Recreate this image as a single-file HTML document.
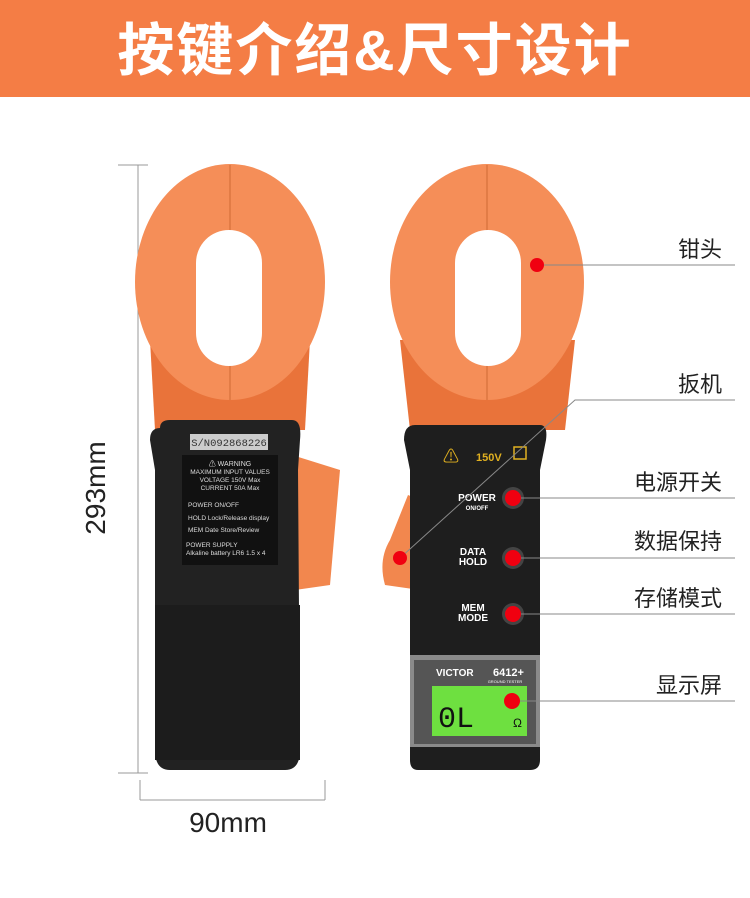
<!DOCTYPE html>
<html><head><meta charset="utf-8"><style>
body{margin:0;width:750px;height:893px;background:#fff;overflow:hidden;font-family:"Liberation Sans","Noto Sans CJK SC",sans-serif}
</style></head><body>
<svg width="750" height="893" viewBox="0 0 750 893" xmlns="http://www.w3.org/2000/svg" font-family="Liberation Sans, Noto Sans CJK SC, sans-serif">
<rect x="0" y="0" width="750" height="97" fill="#F47D45"/>
<text x="375" y="70" text-anchor="middle" font-size="57" font-weight="bold" fill="#fff" letter-spacing="2">按键介绍&amp;尺寸设计</text>

<!-- dimension lines -->
<g stroke="#999" stroke-width="1">
<line x1="138" y1="165" x2="138" y2="773"/><line x1="118" y1="165" x2="148" y2="165"/><line x1="118" y1="773" x2="148" y2="773"/>
<line x1="140" y1="780" x2="140" y2="800"/><line x1="325" y1="780" x2="325" y2="800"/><line x1="140" y1="800" x2="325" y2="800"/>
</g>
<text transform="translate(105,488) rotate(-90)" text-anchor="middle" font-size="28" fill="#222">293mm</text>
<text x="228" y="832" text-anchor="middle" font-size="28" fill="#222">90mm</text>

<!-- left device -->
<path d="M292 455 L340 470 L330 585 L295 590 Z" fill="#F2874E"/>
<path d="M150 340 L310 340 L305 430 L155 430 Z" fill="#E9733A"/>
<ellipse cx="230" cy="282" rx="95" ry="118" fill="#F58E58"/>
<line x1="230" y1="165" x2="230" y2="230" stroke="#d06a35"/>
<line x1="230" y1="365" x2="230" y2="400" stroke="#d06a35"/>
<rect x="196" y="230" width="66" height="136" rx="33" fill="#fff"/>
<path d="M160 428 Q160 420 170 420 L292 420 Q302 420 300 440 L298 470 L300 750 Q300 770 285 770 L170 770 Q155 770 155 750 L155 470 L150 440 Q150 428 160 428 Z" fill="#222"/>
<rect x="155" y="605" width="145" height="155" fill="#1c1c1c"/>
<rect x="190" y="434" width="78" height="16" fill="#ccc"/>
<text x="229" y="446" text-anchor="middle" font-size="10.5" fill="#333" font-family="Liberation Mono, monospace">S/N092868226</text>
<rect x="182" y="455" width="96" height="110" fill="#111"/>
<g fill="#ddd" font-size="6.5">
<text x="230" y="466" text-anchor="middle" font-size="7">⚠ WARNING</text>
<text x="230" y="474" text-anchor="middle">MAXIMUM INPUT VALUES</text>
<text x="230" y="482" text-anchor="middle">VOLTAGE 150V Max</text>
<text x="230" y="490" text-anchor="middle">CURRENT 50A Max</text>
<text x="188" y="507">POWER  ON/OFF</text>
<text x="188" y="520">HOLD  Lock/Release display</text>
<text x="188" y="532">MEM  Date Store/Review</text>
<text x="186" y="547">POWER SUPPLY</text>
<text x="186" y="555">Alkaline battery LR6 1.5 x 4</text>
</g>

<!-- right device -->
<path d="M408 495 L420 500 L420 590 L385 585 Q378 560 390 540 Z" fill="#F2874E"/>
<path d="M400 340 L575 340 L565 430 L410 430 Z" fill="#E9733A"/>
<ellipse cx="487" cy="282" rx="97" ry="118" fill="#F58E58"/>
<line x1="487" y1="165" x2="487" y2="230" stroke="#d06a35"/>
<line x1="487" y1="365" x2="487" y2="400" stroke="#d06a35"/>
<rect x="455" y="230" width="66" height="136" rx="33" fill="#fff"/>
<path d="M415 425 L540 425 Q548 425 546 440 L540 470 L540 760 Q540 770 530 770 L418 770 Q410 770 410 760 L410 470 L404 440 Q404 425 415 425 Z" fill="#1e1e1e"/>
<text x="443" y="462" font-size="16" fill="#E0B020">⚠</text>
<text x="476" y="461" font-size="11" font-weight="bold" fill="#E0B020">150V</text>
<rect x="514" y="447" width="12" height="12" fill="none" stroke="#E0B020" stroke-width="1.5"/>
<g fill="#fff" font-weight="bold" text-anchor="middle">
<text x="477" y="501" font-size="10">POWER</text><text x="477" y="510" font-size="6">ON/OFF</text>
<text x="473" y="555" font-size="10">DATA</text><text x="473" y="565" font-size="10">HOLD</text>
<text x="473" y="611" font-size="10">MEM</text><text x="473" y="621" font-size="10">MODE</text>
</g>
<circle cx="513" cy="498" r="11" fill="#444"/><circle cx="513" cy="558" r="11" fill="#444"/><circle cx="513" cy="614" r="11" fill="#444"/>
<rect x="410" y="655" width="130" height="92" fill="#8a8a8a"/>
<rect x="414" y="660" width="122" height="84" fill="#555"/>
<text x="436" y="676" font-size="10" font-weight="bold" fill="#fff">VICTOR</text>
<text x="493" y="676" font-size="11" font-weight="bold" fill="#fff">6412+</text>
<text x="505" y="683" font-size="4" fill="#fff" text-anchor="middle">GROUND TESTER</text>
<rect x="432" y="686" width="95" height="50" fill="#6EE040"/>
<text x="438" y="727" font-size="30" fill="#111" font-family="Liberation Mono, monospace">0L</text>
<text x="513" y="727" font-size="12" fill="#111">Ω</text>

<!-- leader lines -->
<g stroke="#888" stroke-width="1" fill="none">
<line x1="537" y1="265" x2="735" y2="265"/>
<polyline points="400,558 575,400 735,400"/>
<line x1="513" y1="498" x2="735" y2="498"/>
<line x1="513" y1="558" x2="735" y2="558"/>
<line x1="513" y1="614" x2="735" y2="614"/>
<line x1="513" y1="701" x2="735" y2="701"/>
</g>
<g fill="#F00010">
<circle cx="537" cy="265" r="7"/><circle cx="400" cy="558" r="7"/>
<circle cx="513" cy="498" r="8"/><circle cx="513" cy="558" r="8"/><circle cx="513" cy="614" r="8"/><circle cx="512" cy="701" r="8"/>
</g>
<g font-size="22" fill="#222" text-anchor="end">
<text x="722" y="257">钳头</text>
<text x="722" y="392">扳机</text>
<text x="722" y="490">电源开关</text>
<text x="722" y="549">数据保持</text>
<text x="722" y="606">存储模式</text>
<text x="722" y="693">显示屏</text>
</g>
</svg>
</body></html>
